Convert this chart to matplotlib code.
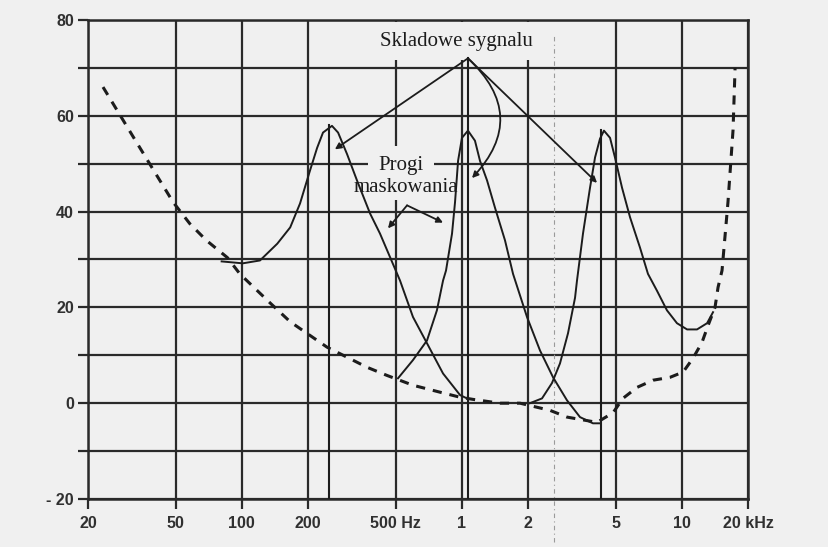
"""masking thresholds plot (scan recreation), log frequency axis vs level in dB"""
import numpy as np
import matplotlib.pyplot as plt

# threshold of hearing in quiet (dashed)
quiet_f = [23.4, 32.7, 48.7, 58, 69, 86, 98, 134, 166, 244, 371, 457, 600, 796,
           982, 1124, 1492, 1840, 2520, 3008, 4120, 4870, 5400, 6260, 7400, 8840,
           10140, 11250, 12360, 13160, 14160, 14620, 15240, 16220, 17100, 17470]
quiet_db = [66, 55, 42, 37.5, 34, 30.4, 27, 21, 17, 11.7, 7.5, 5.8, 3.75, 2.3,
            1.25, 0.8, 0, 0, -1.5, -2.9, -4, -2, 1, 3.3, 4.8, 5.4,
            6.5, 9.4, 12.7, 16.2, 20, 24.2, 27.7, 42, 57, 70]

# masking threshold around the 250 Hz component
mask1_f = [81, 101, 121, 145, 166, 184, 204, 220, 234, 257, 274, 301, 334, 383,
           425, 524, 600, 695, 822, 982, 1056]
mask1_db = [29.6, 29.2, 29.8, 33.3, 36.7, 41.7, 48.5, 53.3, 56.5, 57.9, 56.5, 52,
            46.5, 39.6, 35.4, 25.6, 18, 12.5, 6.2, 1.7, 1]

# masking threshold around the 1 kHz component
mask2_f = [513, 600, 695, 771, 822, 848, 903, 932, 962, 1002, 1067, 1148, 1210,
           1303, 1416, 1572, 1710, 1979, 2268, 2600, 3008, 3446, 3946, 4246]
mask2_db = [5.2, 9, 13.1, 19.4, 25.6, 27.7, 35.4, 42, 50.6, 55.4, 56.9, 54.8, 50.6,
            46.5, 40.8, 34, 27, 18, 11, 5.4, 0.6, -2.9, -4.2, -4.2]

# masking threshold around the 4 kHz component
mask3_f = [2040, 2316, 2570, 2795, 3040, 3272, 3340, 3556, 3828, 4034, 4248, 4428,
           4720, 4970, 5350, 5820, 6456, 7020, 7710, 8560, 9510, 10570, 11730,
           13030, 13870]
mask3_db = [0, 1, 4.2, 8.3, 14.6, 22, 25.6, 35.4, 45, 51.3, 55.2, 56.9,
            55.4, 51.3, 45, 38.8, 32.5, 27, 23.5, 19.4, 16.7, 15.4, 15.4,
            16.7, 19]

# signal components (vertical lines from the bottom)
signal_f = [250, 1070, 4300]
signal_top = [58, 72, 57]

x_ticks = [20, 50, 100, 200, 500, 1000, 2000, 5000, 10000, 20000]
x_labels = ['20', '50', '100', '200', '500 Hz', '1', '2', '5', '10', '20 kHz']
y_ticks = [-20, 0, 20, 40, 60, 80]
y_labels = ['- 20', '0', '20', '40', '60', '80']

bg = '#f0f0f0'
ink = '#1c1c1c'
grid_c = '#2a2a2a'

fig = plt.figure(figsize=(8.29, 5.47), dpi=100, facecolor=bg)
ax = fig.add_axes([88 / 829, 1 - 499 / 547, 660 / 829, 479 / 547])
ax.set_facecolor(bg)
ax.set_xscale('log')
ax.set_xlim(20, 20000)
ax.set_ylim(-20, 80)

ax.set_xticks(x_ticks)
ax.set_xticklabels(x_labels)
ax.xaxis.set_minor_locator(plt.NullLocator())
ax.set_yticks(y_ticks)
ax.set_yticklabels(y_labels)
ax.set_yticks(np.arange(-10, 80, 20), minor=True)
ax.tick_params(which='both', direction='out', length=7, width=1.6, color=grid_c,
               labelsize=11.5, labelcolor='#303030')
ax.tick_params(axis='x', pad=5)
ax.tick_params(axis='y', pad=3)
for lab in ax.get_xticklabels() + ax.get_yticklabels():
    lab.set_family('Liberation Sans')
    lab.set_fontweight('bold')

ax.grid(True, which='both', color=grid_c, lw=1.6, zorder=1)
for s in ax.spines.values():
    s.set_color(grid_c)
    s.set_linewidth(1.8)

# faint dash-dot line from the scan
ax.plot([2620, 2620], [-29, 77], color='#9a9a9a', lw=0.8,
        linestyle=(0, (4, 3, 1, 3)), clip_on=False, zorder=2)

# curves
ax.plot(quiet_f, quiet_db, color=ink, lw=2.2, linestyle=(0, (3, 2.6)), zorder=4)
ax.plot(mask1_f, mask1_db, color=ink, lw=1.4, zorder=4)
ax.plot(mask2_f, mask2_db, color=ink, lw=1.4, zorder=4)
ax.plot(mask3_f, mask3_db, color=ink, lw=1.4, zorder=4)
for f, top in zip(signal_f, signal_top):
    ax.plot([f, f], [-20, top], color=ink, lw=1.5, zorder=4)

# labels
ax.text(950, 75.6, 'Skladowe sygnalu', ha='center', va='center', fontsize=15,
        family='Liberation Serif', color=ink, zorder=2.2,
        bbox=dict(boxstyle='square,pad=0.45', fc=bg, ec='none'))
ax.text(530, 49.6, 'Progi', ha='center', va='center', fontsize=15,
        family='Liberation Serif', color=ink, zorder=2.2,
        bbox=dict(boxstyle='square,pad=0.5', fc=bg, ec='none'))
ax.text(555, 45, 'maskowania', ha='center', va='center', fontsize=15,
        family='Liberation Serif', color=ink, zorder=2.2,
        bbox=dict(boxstyle='square,pad=0.12', fc=bg, ec='none'))

arrow = dict(arrowstyle='-|>', color=ink, lw=1.3, mutation_scale=9,
             shrinkA=0, shrinkB=0)
apex = (1067, 72)
ax.annotate('', xy=(265, 53), xytext=apex, arrowprops=arrow, zorder=5)
ax.annotate('', xy=(4120, 46), xytext=apex, arrowprops=arrow, zorder=5)
ax.annotate('', xy=(1113, 47), xytext=apex,
            arrowprops=dict(arrow, connectionstyle='arc3,rad=-0.5'), zorder=5)
apex2 = (564, 41.3)
ax.annotate('', xy=(462, 36.5), xytext=apex2, arrowprops=arrow, zorder=5)
ax.annotate('', xy=(822, 37.7), xytext=apex2, arrowprops=arrow, zorder=5)

plt.savefig('out.png', dpi=100, facecolor=bg)
